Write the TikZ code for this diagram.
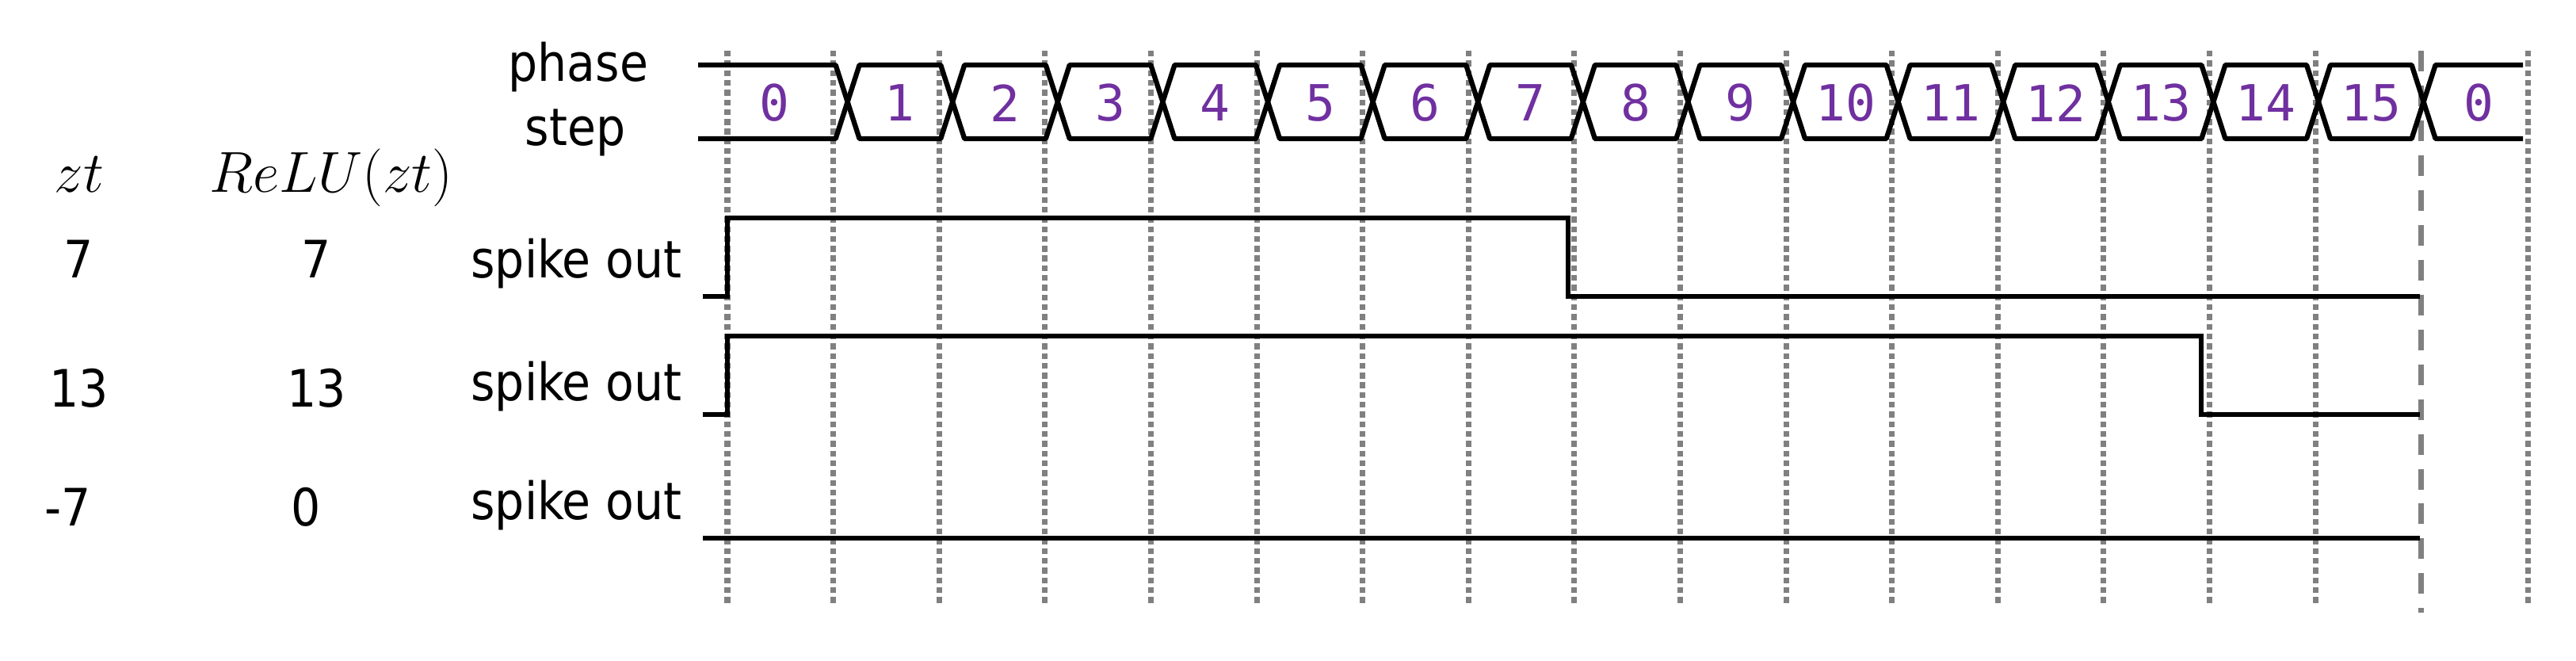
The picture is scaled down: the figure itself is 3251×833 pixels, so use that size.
\documentclass[tikz,border=0pt]{standalone}
\usepackage{fontspec}
\setmainfont{DejaVu Sans Condensed}
\newfontfamily\stepfont{DejaVu Sans Mono}
\usepackage{tikz}

\definecolor{stepviolet}{RGB}{112,48,160}
\definecolor{gridgray}{RGB}{128,128,128}

\begin{document}
\begin{tikzpicture}[x=0.01cm,y=-0.01cm]
    \tikzstyle{every node}=[inner sep=0pt, font=\fontsize{18.5}{22}\selectfont];
    \tikzstyle{wave}=[line width=1.8pt, line join=miter];
    \tikzstyle{bus}=[line width=1.8pt, line join=bevel];
    \tikzstyle{grid}=[gridgray, line width=2pt, dash pattern=on 2.1pt off 1.4pt];
    \tikzstyle{period}=[gridgray, line width=2pt, dash pattern=on 7.4pt off 5.1pt];
    \tikzstyle{stepnum}=[stepviolet, font=\stepfont\fontsize{17.9}{20}\selectfont];
    \useasboundingbox (0,0) rectangle (3251,833);
    % time grid
    \foreach \k in {0,...,15}
        \draw[grid] (918+133.6*\k,64) -- (918+133.6*\k,765);
    \draw[grid] (3190,64) -- (3190,765);
    \draw[period] (3055,64) -- (3055,773);
    % phase step bus
    \draw[bus] (881,82) -- (1054.6,82) -- (1069.6,128.5) -- (1054.6,175) -- (881,175);
    \node[stepnum] (p0) at (977,130) {0};
    \foreach \k in {1,...,15} {
        \draw[bus] (937+132.6*\k,128.5) -- (952+132.6*\k,82) -- (1054.6+132.6*\k,82)
            -- (1069.6+132.6*\k,128.5) -- (1054.6+132.6*\k,175) -- (952+132.6*\k,175) -- cycle;
        \node[stepnum] (p\k) at (1003.3+132.6*\k,130) {\k};
    }
    \draw[bus] (3184,82) -- (3073.6,82) -- (3058.6,128.5) -- (3073.6,175) -- (3184,175);
    \node[stepnum] (p16) at (3128,130) {0};
    % labels
    \node[anchor=base] (phase) at (730,102) {phase};
    \node[anchor=base] (step) at (726,183) {step};
    \node[anchor=base, font=\fontsize{20}{24}\selectfont] (zt) at (100,242) {$zt$};
    \node[anchor=base, font=\fontsize{20}{24}\selectfont] (relu) at (418,242) {$ReLU(zt)$};
    \node[anchor=base] (zta) at (99,350) {7};
    \node[anchor=base] (relua) at (399,350) {7};
    \node[anchor=base] (ztb) at (100,513) {13};
    \node[anchor=base] (relub) at (400,513) {13};
    \node[anchor=base] (ztc) at (86,663) {-7};
    \node[anchor=base] (reluc) at (386,663) {0};
    \node[anchor=base east] (spikea) at (861,350) {spike out};
    \node[anchor=base east] (spikeb) at (861,505) {spike out};
    \node[anchor=base east] (spikec) at (861,655) {spike out};
    % spike trains
    \draw[wave] (887,374) -- (918,374) -- (918,275) -- (1979,275) -- (1979,374) -- (3054,374);
    \draw[wave] (887,523) -- (918,523) -- (918,424) -- (2778,424) -- (2778,523) -- (3054,523);
    \draw[wave] (887,679) -- (3054,679);
\end{tikzpicture}
\end{document}
